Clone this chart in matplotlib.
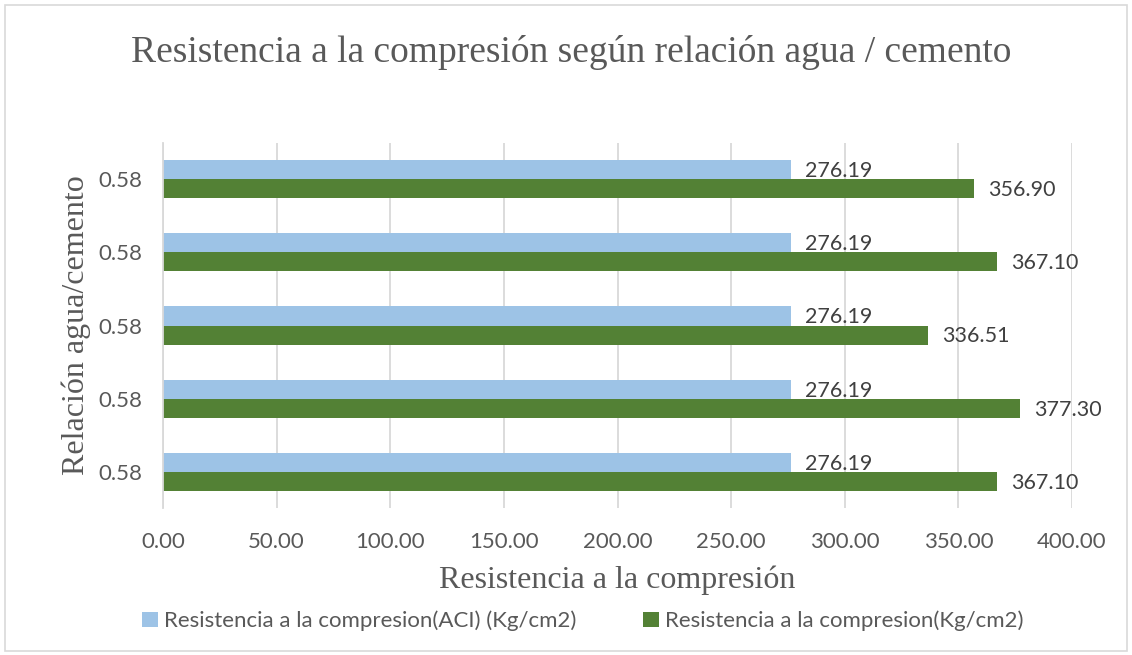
import matplotlib
matplotlib.use("Agg")
import matplotlib.pyplot as plt
import numpy as np
from matplotlib.patches import Rectangle

categories = ["0.58", "0.58", "0.58", "0.58", "0.58"]
aci_values = [276.19, 276.19, 276.19, 276.19, 276.19]
real_values = [367.10, 377.30, 336.51, 367.10, 356.90]
series_names = ["Resistencia a la compresion(ACI) (Kg/cm2)", "Resistencia a la compresion(Kg/cm2)"]
xticks = [0, 50, 100, 150, 200, 250, 300, 350, 400]

sans = ["Lato", "DejaVu Sans"]
serif = ["Liberation Serif", "DejaVu Serif"]
txt = "#595959"

fig = plt.figure(figsize=(11.32, 6.55), dpi=100)
fig.patches.append(Rectangle((0.004, 0.006), 0.992, 0.986, transform=fig.transFigure,
                             fill=False, edgecolor="#d9d9d9", linewidth=1.2))
ax = fig.add_axes([0.144, 0.2237, 0.803, 0.5587])

y = np.arange(len(categories))
h = 0.26
b1 = ax.barh(y + h / 2, aci_values, height=h, color="#9dc3e6", label=series_names[0], zorder=3)
b2 = ax.barh(y - h / 2, real_values, height=h, color="#538135", label=series_names[1], zorder=3)

for bars, vals in ((b1, aci_values), (b2, real_values)):
    for r, v in zip(bars, vals):
        ax.annotate(f"{v:.2f}", (v, r.get_y() + r.get_height() / 2), xytext=(10, -1),
                    textcoords="offset points", va="center", ha="left",
                    fontsize=15.5, color="#404040", family=sans, zorder=4)

ax.set_xlim(0, 400)
ax.set_ylim(-0.5, len(categories) - 0.5)
ax.set_xticks(xticks)
ax.set_xticklabels([f"{t:.2f}" for t in xticks], fontsize=16, color=txt, family=sans)
ax.set_yticks(y)
ax.set_yticklabels(categories, fontsize=16, color=txt, family=sans)
ax.tick_params(axis="x", length=0, pad=17)
ax.tick_params(axis="y", length=0, pad=15)
ax.grid(axis="x", color="#d9d9d9", linewidth=1.3, zorder=0)
for s in ("top", "right", "bottom"):
    ax.spines[s].set_visible(False)
ax.spines["left"].set_color("#d9d9d9")
ax.spines["left"].set_linewidth(1.3)
ax.spines["left"].set_zorder(5)

ax.set_xlabel("Resistencia a la compresión", fontsize=23, color=txt, family=serif, labelpad=10)
ax.set_ylabel("Relación agua/cemento", fontsize=23, color=txt, family=serif, labelpad=5)

fig.text(0.505, 0.92, "Resistencia a la compresión según relación agua / cemento",
         ha="center", va="center", fontsize=27, color=txt, family=serif)

leg = fig.legend(handles=[b1, b2], labels=series_names, loc="center", bbox_to_anchor=(0.515, 0.052),
                 ncol=2, frameon=False, handlelength=0.7, handleheight=0.7,
                 handletextpad=0.3, columnspacing=3.0, prop={"family": sans, "size": 16})
for t in leg.get_texts():
    t.set_color(txt)

fig.savefig("out.png", dpi=100, facecolor="white")
